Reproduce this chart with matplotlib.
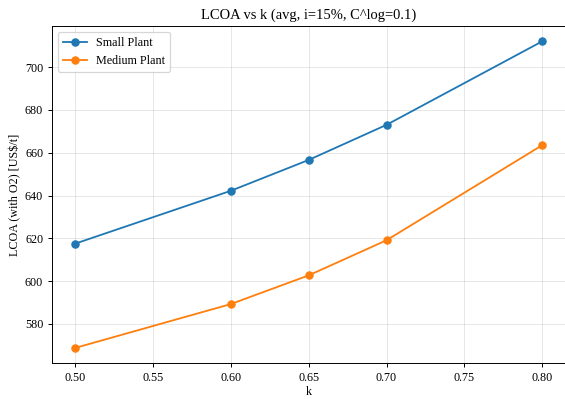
import matplotlib
matplotlib.use("Agg")
import matplotlib.pyplot as plt

plt.rcParams['font.family'] = ['Liberation Serif', 'DejaVu Serif']

k = [0.50, 0.60, 0.65, 0.70, 0.80]
small = [617.5, 642.2, 656.6, 673.0, 712.0]
medium = [568.8, 589.3, 602.7, 619.1, 663.5]

W, H = 565, 399
dpi = 87
fig = plt.figure(figsize=(W / dpi, H / dpi), dpi=dpi)
ax = fig.add_axes([51.7 / W, 1 - 363.3 / H, 513.9 / W, (363.3 - 26) / H])
ax.plot(k, small, marker='o', label='Small Plant', color='#1f77b4')
ax.plot(k, medium, marker='o', label='Medium Plant', color='#ff7f0e')
ax.set_title('LCOA vs k (avg, i=15%, C^log=0.1)', fontsize=12)
ax.set_xlabel('k', fontsize=10, labelpad=1.5)
ax.set_ylabel('LCOA (with O2) [US$/t]', fontsize=10, labelpad=3)
ax.tick_params(labelsize=10)
ax.grid(True, alpha=0.3)
ax.legend(fontsize=10, loc='upper left')
fig.savefig('out.png', dpi=dpi)
